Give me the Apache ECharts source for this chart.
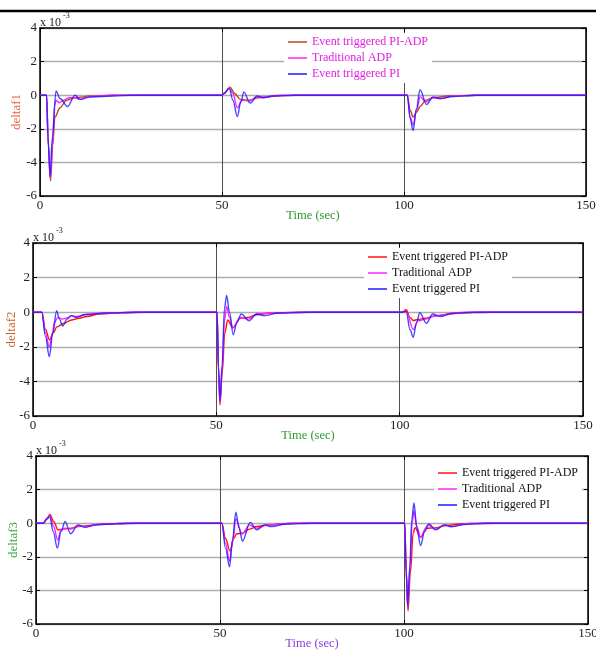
<!DOCTYPE html>
<html><head><meta charset="utf-8">
<script src="https://cdn.jsdelivr.net/npm/echarts@6/dist/echarts.min.js"></script>
<style>html,body{margin:0;padding:0;background:#fff}#c{width:596px;height:650px}</style>
</head><body><div id="c"></div>
<script>
// ---- tick labels / categories ----
const xTicks = [0, 50, 100, 150];
const yTicks = [4, 2, 0, -2, -4, -6];
const seriesNames = ['Event triggered PI-ADP', 'Traditional ADP', 'Event triggered PI'];
const yNames = ['deltaf1', 'deltaf2', 'deltaf3'];
const xName = 'Time (sec)';

// ---- panel 1 (deltaf1), values in 1e-3 ----
const f1_piadp_t = [0,1.8,2.3,2.9,3.5,4.1,5.5,7.3,9.6,14,20,50,50.5,52.2,53.5,55,57.5,60,65,70,100,100.9,101.7,102.5,103.5,104.5,106,108,112,120,150];
const f1_piadp_v = [0,0,-3.0,-5.1,-3.0,-1.3,-0.75,-0.3,-0.15,-0.05,0,0,0.1,0.48,0.1,-0.25,-0.3,-0.15,-0.05,0,0,0,-0.9,-1.3,-1.0,-0.65,-0.3,-0.15,-0.05,0,0];
const f1_adp_t = [0,1.8,2.3,2.85,3.4,4.0,4.4,5.3,6.5,8,9.5,11,13,20,50,50.5,52,53,54.2,55.5,57.5,59.5,62,66,100,100.9,101.7,102.5,103.5,104.4,106,108,110,114,120,150];
const f1_adp_v = [0,0,-3.0,-4.95,-3.0,-0.6,-0.3,-0.45,-0.3,-0.15,-0.15,-0.25,-0.1,0,0,0.1,0.42,0.1,-0.75,-0.3,-0.35,-0.1,-0.1,0,0,0,-1.3,-1.77,-0.9,-0.1,-0.4,-0.15,-0.2,-0.05,0,0];
const f1_pi_t = [0,1.8,2.2,2.75,3.4,4.4,5.5,7.6,9.6,11,14,20,25,50,50.5,52,53,54.2,55.2,56,57.7,59.7,61.4,64,70,100,100.9,101.7,102.5,103.4,104.4,106.2,108,110,113,120,150];
const f1_pi_v = [0,0,-2.5,-4.85,-2.5,0.25,-0.2,-0.67,0,-0.25,-0.1,-0.05,0,0,0.1,0.4,-0.3,-1.27,-0.4,0.2,-0.47,-0.05,-0.15,-0.05,0,0,0,-1.4,-2.1,-0.8,0.32,-0.55,-0.1,-0.2,-0.08,0,0];

// ---- panel 2 (deltaf2) ----
const f2_piadp_t = [0,2.4,3.4,4.5,5.5,6.5,8.3,10.5,12.5,14.7,18,25,30,50,50.2,50.6,51,51.6,52.3,53.1,54.5,56.5,58.5,61,65,75,100,100.7,101.8,102.8,103.7,105,107,110,115,125,150];
const f2_piadp_v = [0,0,-1.0,-1.6,-1.2,-0.85,-0.65,-0.45,-0.35,-0.25,-0.1,-0.03,0,0,0,-3.5,-5.35,-3.5,-1.2,-0.45,-0.9,-0.35,-0.3,-0.15,-0.05,0,0,0,0.14,-0.3,-0.48,-0.42,-0.35,-0.2,-0.05,0,0];
const f2_adp_t = [0,2.4,3.4,4.45,5.3,5.8,6.8,8,9,10.5,12,15,20,28,50,50.2,50.6,51,51.6,52.2,52.8,53.6,54.5,56.5,58.8,61,65,72,100,100.7,101.8,103.7,105,107,109,112,118,150];
const f2_adp_v = [0,0,-1.2,-2.03,-1.2,-0.6,-0.3,-0.4,-0.35,-0.2,-0.25,-0.1,-0.05,0,0,0,-3.3,-5.2,-3.3,-0.5,0.33,-0.3,-0.9,-0.3,-0.4,-0.1,-0.05,0,0,0,0.05,-1.0,-0.5,-0.4,-0.25,-0.15,0,0];
const f2_pi_t = [0,2.4,3.4,4.45,5.4,6.45,7.2,8.1,9.3,10.5,11.8,14,20,28,50,50.2,50.6,51,51.6,52.2,52.8,53.6,54.6,55.6,56.8,58.9,61,63,67,75,100,100.7,101.8,102.8,103.7,104.6,105.5,107.3,109,111,114,120,150];
const f2_pi_v = [0,0,-1.4,-2.57,-1.2,0.08,-0.4,-0.8,-0.4,-0.2,-0.3,-0.15,-0.05,0,0,0,-3.2,-5.12,-3.0,0.2,0.97,0,-1.31,-0.6,-0.1,-0.5,-0.1,-0.2,-0.05,0,0,0,0.05,-1.0,-1.45,-0.6,-0.03,-0.64,-0.1,-0.25,-0.08,0,0];

// ---- panel 3 (deltaf3) ----
const f3_piadp_t = [0,2,3,3.8,4.8,6,7.5,9.5,11.5,14,18,25,50,50.5,51.5,52.7,53.8,54.5,56,58,60,63,70,100,100.2,100.6,101.1,101.7,102.5,103,104.5,106,108.5,111,115,125,150];
const f3_piadp_v = [0,0,0.3,0.52,0.1,-0.4,-0.35,-0.3,-0.2,-0.15,-0.05,0,0,0,-0.9,-1.66,-0.9,-0.63,-0.6,-0.35,-0.2,-0.1,0,0,0,-3.0,-5.23,-3.0,-0.6,-0.27,-0.83,-0.3,-0.28,-0.15,-0.05,0,0];
const f3_adp_t = [0,2,3,3.8,4.8,5.9,6.8,8,9.5,11.5,13.5,18,25,50,50.5,51.5,52.6,53.5,54.3,56,58,60,63,70,100,100.2,100.6,101,101.6,102.2,102.7,103.5,104.5,106.5,108.5,111,113,118,150];
const f3_adp_v = [0,0,0.3,0.45,-0.2,-1.0,-0.4,-0.3,-0.35,-0.15,-0.2,-0.05,0,0,0,-1.2,-2.27,-1.0,0.26,-0.65,-0.1,-0.3,-0.1,0,0,0,-2.9,-5.0,-2.8,0,0.75,-0.2,-0.85,-0.1,-0.35,-0.1,-0.2,0,0];
const f3_pi_t = [0,2,3,3.7,4.7,5.8,6.8,7.9,9.4,11.4,13.3,16,22,28,50,50.5,51.5,52.6,53.4,54.3,55.2,56.1,58.2,60,62,64,68,75,100,100.2,100.6,101,101.6,102.1,102.7,103.5,104.5,105.6,106.8,108.6,111,113,116,122,150];
const f3_pi_v = [0,0,0.25,0.4,-0.5,-1.48,-0.5,0.1,-0.63,-0.1,-0.25,-0.1,-0.03,0,0,0,-1.5,-2.6,-1.0,0.65,-0.3,-1.07,0.05,-0.4,-0.1,-0.2,-0.05,0,0,0,-2.8,-4.9,-2.5,0.2,1.2,-0.3,-1.33,-0.5,-0.05,-0.4,-0.1,-0.2,-0.08,0,0];

const FONT = "'Liberation Serif','Times New Roman',serif";
const zip = (t, v) => t.map((x, i) => [x, v[i]]);

const panels = [
  {grid:{left:40, top:28, width:546, height:168}, yName:yNames[0], yNameColor:'#e8603c', xNameColor:'#2e9a2e', yGap:17,
   colors:['#c0451c','#ff22ff','#1a1aff'], legendText:'#e020e0', legendPos:{left:284, top:33},
   data:[zip(f1_piadp_t,f1_piadp_v), zip(f1_adp_t,f1_adp_v), zip(f1_pi_t,f1_pi_v)]},
  {grid:{left:33, top:243, width:550, height:173}, yName:yNames[1], yNameColor:'#c8602a', xNameColor:'#2e9a2e', yGap:15,
   colors:['#ff1010','#ff22ff','#1a1aff'], legendText:'#111', legendPos:{left:364, top:248},
   data:[zip(f2_piadp_t,f2_piadp_v), zip(f2_adp_t,f2_adp_v), zip(f2_pi_t,f2_pi_v)]},
  {grid:{left:36, top:456, width:552, height:168}, yName:yNames[2], yNameColor:'#3aa53a', xNameColor:'#8a3ee0', yGap:16,
   colors:['#ff1010','#ff22ff','#1a1aff'], legendText:'#111', legendPos:{left:434, top:464},
   data:[zip(f3_piadp_t,f3_piadp_v), zip(f3_adp_t,f3_adp_v), zip(f3_pi_t,f3_pi_v)]}
];

const grids = [], xAxes = [], yAxes = [], series = [], legends = [], graphics = [];
graphics.push({type:'line', shape:{x1:0, y1:11, x2:596, y2:11}, style:{stroke:'#000', lineWidth:2.5}});

panels.forEach((p, i) => {
  grids.push(Object.assign({containLabel:false, outerBoundsMode:'none'}, p.grid));
  const lbl = {fontFamily:FONT, fontSize:13, color:'#222'};
  // bottom x
  xAxes.push({type:'value', gridIndex:i, min:0, max:150, interval:50, position:'bottom',
    name:xName, nameLocation:'middle', nameGap:13, nameMoveOverlap:false,
    nameTextStyle:{fontFamily:FONT, fontSize:12.5, color:p.xNameColor},
    axisLine:{show:true, onZero:false, lineStyle:{color:'#000', width:1.5}},
    axisTick:{show:true, inside:true, length:4, lineStyle:{color:'#000'}},
    axisLabel:Object.assign({margin:3}, lbl),
    splitLine:{show:true, lineStyle:{color:'#505050', width:1}}});
  // top x (frame)
  xAxes.push({type:'value', gridIndex:i, min:0, max:150, interval:50, position:'top',
    axisLine:{show:true, onZero:false, lineStyle:{color:'#000', width:1.5}},
    axisTick:{show:true, inside:true, length:4, lineStyle:{color:'#000'}},
    axisLabel:{show:false}, splitLine:{show:false}});
  // left y
  yAxes.push({type:'value', gridIndex:i, min:-6, max:4, interval:2, position:'left',
    name:p.yName, nameLocation:'middle', nameRotate:90, nameGap:p.yGap, nameMoveOverlap:false,
    nameTextStyle:{fontFamily:FONT, fontSize:13, color:p.yNameColor},
    axisLine:{show:true, onZero:false, lineStyle:{color:'#000', width:1.5}},
    axisTick:{show:true, inside:true, length:4, lineStyle:{color:'#000'}},
    axisLabel:Object.assign({margin:3}, lbl),
    splitLine:{show:true, lineStyle:{color:'#adadad', width:1.3}}});
  // right y (frame)
  yAxes.push({type:'value', gridIndex:i, min:-6, max:4, interval:2, position:'right',
    axisLine:{show:true, onZero:false, lineStyle:{color:'#000', width:1.5}},
    axisTick:{show:true, inside:true, length:4, lineStyle:{color:'#000'}},
    axisLabel:{show:false}, splitLine:{show:false}});

  p.data.forEach((d, k) => {
    series.push({type:'line', name:seriesNames[k], xAxisIndex:2*i, yAxisIndex:2*i, data:d,
      showSymbol:false, symbol:'none', smooth:0.35, smoothMonotone:'x',
      lineStyle:{color:p.colors[k], width:1.4, opacity:k===2?0.8:1}, itemStyle:{color:p.colors[k]},
      z:2+k, silent:true, animation:false});
  });

  legends.push({orient:'vertical', left:p.legendPos.left, top:p.legendPos.top, backgroundColor:'#fff',
    padding:[2,4,2,4], itemGap:2, itemWidth:19, itemHeight:1.5, icon:'rect',
    textStyle:{fontFamily:FONT, fontSize:12, color:p.legendText, lineHeight:14},
    data:seriesNames.map((n, k) => ({name:n, icon:'rect', itemStyle:{color:p.colors[k]}})),
    selectedMode:false});

  const g = p.grid;
  graphics.push({type:'text', left:g.left, top:g.top - 11, style:{text:'x 10', font:'12px ' + FONT, fill:'#222'}});
  graphics.push({type:'text', left:g.left + 23, top:g.top - 16, style:{text:'-3', font:'8px ' + FONT, fill:'#222'}});
});

const chart = echarts.init(document.getElementById('c'), null, {renderer:'canvas'});
chart.setOption({animation:false, backgroundColor:'#fff', grid:grids, xAxis:xAxes, yAxis:yAxes,
  series:series, legend:legends, graphic:graphics});
</script></body></html>
